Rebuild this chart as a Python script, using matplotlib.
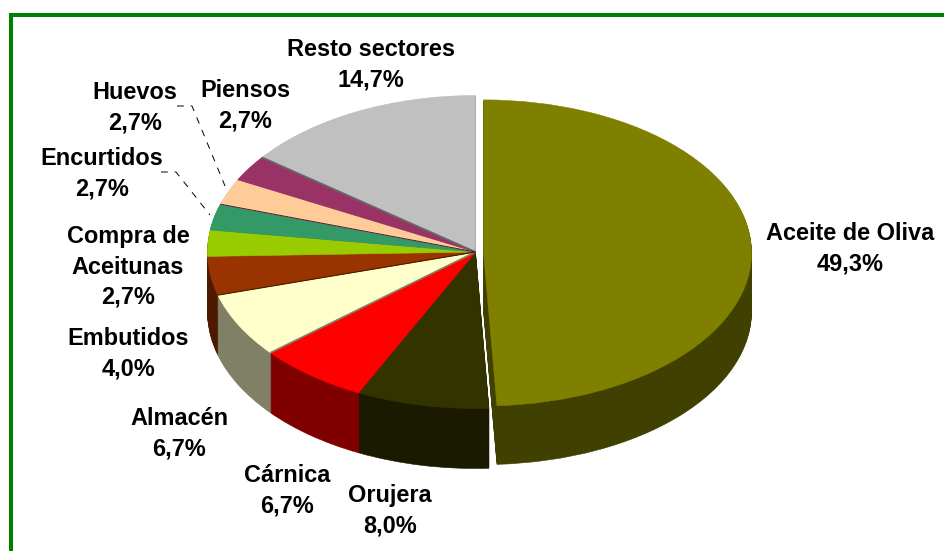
import numpy as np
import matplotlib
matplotlib.use("Agg")
import matplotlib.pyplot as plt
from matplotlib.transforms import Affine2D

categories = ["Aceite de Oliva", "Orujera", "Cárnica", "Almacén", "Embutidos",
              "Compra de\nAceitunas", "Encurtidos", "Huevos", "Piensos", "Resto sectores"]
values = [49.3, 8.0, 6.7, 6.7, 4.0, 2.7, 2.7, 2.7, 2.7, 14.7]
value_labels = ["49,3%", "8,0%", "6,7%", "6,7%", "4,0%", "2,7%", "2,7%", "2,7%", "2,7%", "14,7%"]
top_colors = ["#808000", "#333300", "#FF0000", "#FFFFCC", "#993300",
              "#99CC00", "#339966", "#FFCC99", "#993366", "#C0C0C0"]
wall_colors = ["#404000", "#1A1A00", "#800000", "#808066", "#4D1A00",
               "#4D6600", "#1A4D33", "#80664D", "#4D1A33", "#606060"]
explode = [0.03, 0, 0, 0, 0, 0, 0, 0, 0, 0]
label_pos = [(850, 249), (390, 511), (287, 491), (179, 434), (128, 354),
             (128, 267), (102, 174), (135, 108), (245, 106), (371, 65)]
W, H = 945, 551
CX, CY, RX, RY, DEPTH = 475.5, 252, 268, 156.5, 60
EXPLODED_SQUASH = 153 / 156.5

fig = plt.figure(figsize=(W / 100, H / 100), dpi=100)
ax = fig.add_axes([0, 0, 1, 1])


def pie_layer(offset, colors):
    wedges, _ = ax.pie(values, colors=colors, explode=explode, startangle=90,
                       counterclock=False, center=(0, -offset / RY), radius=1,
                       wedgeprops=dict(linewidth=0.4, edgecolor="none"))
    for w, c in zip(wedges, colors):
        w.set_edgecolor(c)
    wedges[0].set_transform(Affine2D().scale(1, EXPLODED_SQUASH).translate(0, -1 / RY) + ax.transData)
    return wedges


for d in range(DEPTH, 0, -1):
    pie_layer(d, wall_colors)
pie_layer(0, top_colors)

ax.set_aspect("auto")
ax.set_xlim((0 - CX) / RX, (W - CX) / RX)
ax.set_ylim((CY - H) / RY, CY / RY)
ax.axis("off")

# Thin visible slice faces along some radial boundaries (index of the slice ending there)
bounds = 90 - np.cumsum(values) / np.sum(values) * 360
for idx, col, lw in [(8, "#666666", 1.3), (2, "#808066", 1.2), (3, "#4D1A00", 0.8), (6, "#4D1A33", 0.7)]:
    a = np.deg2rad(bounds[idx])
    ax.plot([0, np.cos(a)], [0, np.sin(a)], color=col, lw=lw, solid_capstyle="butt")


def P(x, y):
    return (x / W, 1 - y / H)


for cat, val, (x, y) in zip(categories, value_labels, label_pos):
    fig.text(*P(x, y), f"{cat}\n{val}", ha="center", va="center", fontsize=16.9,
             fontweight="bold", family="Liberation Sans", linespacing=1.4, color="black")

for path in ([(177, 106), (192, 106), (225, 186)], [(161, 172), (176, 172), (210, 215)]):
    xs, ys = zip(*[P(*p) for p in path])
    fig.add_artist(plt.Line2D(xs, ys, color="black", lw=0.7, ls=(0, (7, 7)), transform=fig.transFigure))

green = "#008000"
fig.add_artist(plt.Line2D([11 / W, 11 / W, 1], [0, 1 - 15 / H, 1 - 15 / H], color=green, lw=2.9,
                          solid_joinstyle="miter", solid_capstyle="butt", transform=fig.transFigure))

fig.savefig("out.png", dpi=100)
